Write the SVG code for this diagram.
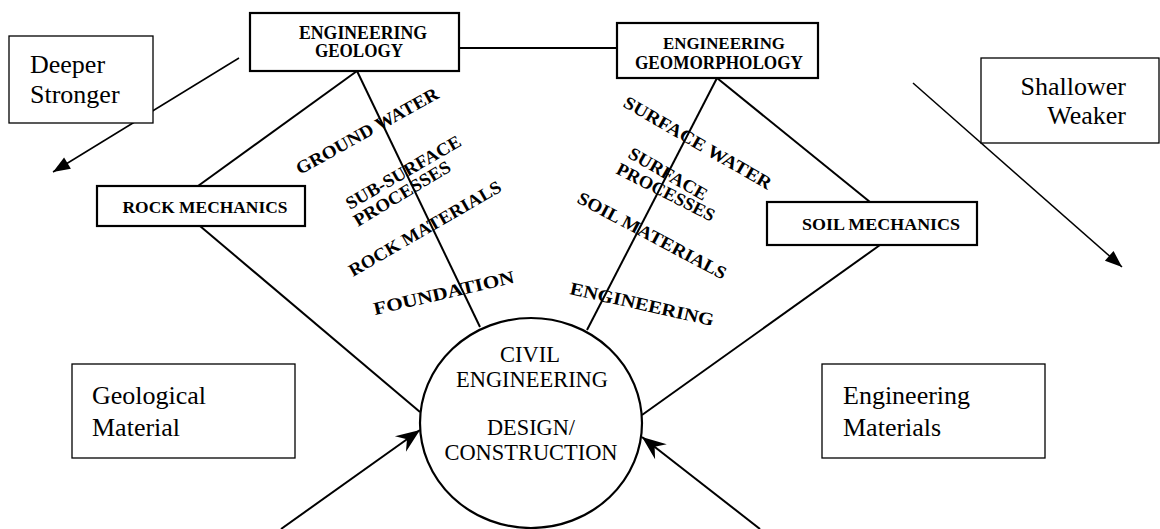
<svg xmlns="http://www.w3.org/2000/svg" width="1160" height="529" viewBox="0 0 1160 529">
  <defs>
    <marker id="tri" markerUnits="userSpaceOnUse" markerWidth="20" markerHeight="16" viewBox="-18 -8 20 16" refX="0" refY="0" orient="auto">
      <path d="M0,0 L-17,-6.5 L-17,6.5 z" fill="#000"/>
    </marker>
    <marker id="barb" markerUnits="userSpaceOnUse" markerWidth="28" markerHeight="22" viewBox="-26 -11 28 22" refX="0" refY="0" orient="auto">
      <path d="M0,0 L-24,-9.5 L-16,0 L-24,9.5 z" fill="#000"/>
    </marker>
    <style>
      .scan { fill: #fff; stroke: #000; stroke-width: 2.2; }
      .plain { fill: #fff; stroke: #000; stroke-width: 1.3; }
      .edge { fill: none; stroke: #000; stroke-width: 2; }
      .arr { fill: none; stroke: #000; stroke-width: 1.5; }
      .lbl { font-family: "Liberation Serif", "DejaVu Serif", serif; font-weight: bold; fill: #000; }
      .rot { font-family: "Liberation Serif", "DejaVu Serif", serif; font-weight: bold; font-size: 18px; fill: #000; }
      .core { font-family: "Liberation Serif", "DejaVu Serif", serif; font-size: 23px; fill: #000; text-anchor: middle; }
      .tnr { font-family: "Liberation Serif", "Times New Roman", serif; font-size: 26px; fill: #000; }
    </style>
  </defs>

  <!-- connectors -->
  <g id="connectors">
    <line class="edge" x1="459" y1="48" x2="617" y2="48"/>
    <line class="edge" x1="357" y1="71" x2="198" y2="186"/>
    <line class="edge" x1="357" y1="71" x2="480" y2="327"/>
    <line class="edge" x1="717" y1="78" x2="587" y2="330"/>
    <line class="edge" x1="717" y1="78" x2="870" y2="202"/>
    <line class="edge" x1="200" y1="226" x2="420" y2="412"/>
    <line class="edge" x1="880" y1="245" x2="642" y2="415"/>
    <!-- trend arrows -->
    <line class="arr" x1="239" y1="58" x2="53" y2="172" marker-end="url(#tri)"/>
    <line class="arr" x1="913" y1="83" x2="1122" y2="267" marker-end="url(#tri)"/>
    <!-- inputs into the design core -->
    <line class="edge" x1="281" y1="529" x2="420" y2="430" marker-end="url(#barb)"/>
    <line class="edge" x1="760" y1="529" x2="642" y2="437" marker-end="url(#barb)"/>
  </g>

  <!-- discipline boxes -->
  <g id="eng-geology">
    <rect class="scan" x="250" y="13" width="209" height="58"/>
    <text class="lbl" x="363" y="39" font-size="18" text-anchor="middle" textLength="128" lengthAdjust="spacingAndGlyphs">ENGINEERING</text>
    <text class="lbl" x="359" y="57" font-size="18" text-anchor="middle" textLength="88" lengthAdjust="spacingAndGlyphs">GEOLOGY</text>
  </g>

  <g id="eng-geomorphology">
    <rect class="scan" x="617" y="23" width="201" height="55"/>
    <text class="lbl" x="724" y="49" font-size="17" text-anchor="middle" textLength="122" lengthAdjust="spacingAndGlyphs">ENGINEERING</text>
    <text class="lbl" x="719" y="69" font-size="18" text-anchor="middle" textLength="168" lengthAdjust="spacingAndGlyphs">GEOMORPHOLOGY</text>
  </g>

  <g id="rock-mechanics">
    <rect class="scan" x="97" y="186" width="208" height="40"/>
    <text class="lbl" x="205" y="213" font-size="17" text-anchor="middle" textLength="165" lengthAdjust="spacingAndGlyphs">ROCK MECHANICS</text>
  </g>

  <g id="soil-mechanics">
    <rect class="scan" x="767" y="202" width="210" height="43"/>
    <text class="lbl" x="881" y="230" font-size="17" text-anchor="middle" textLength="158" lengthAdjust="spacingAndGlyphs">SOIL MECHANICS</text>
  </g>

  <!-- central design node -->
  <g id="civil-engineering">
    <ellipse cx="531" cy="423" rx="111" ry="105" fill="#fff" stroke="#000" stroke-width="2.2"/>
    <text class="core" x="530" y="362" textLength="60" lengthAdjust="spacingAndGlyphs">CIVIL</text>
    <text class="core" x="532" y="387" textLength="152" lengthAdjust="spacingAndGlyphs">ENGINEERING</text>
    <text class="core" x="531" y="435" textLength="88" lengthAdjust="spacingAndGlyphs">DESIGN/</text>
    <text class="core" x="531" y="460" textLength="173" lengthAdjust="spacingAndGlyphs">CONSTRUCTION</text>
  </g>

  <!-- processes along the geology branch -->
  <g id="geology-topics">
    <text class="rot" transform="translate(300,175) rotate(-29)" textLength="160" lengthAdjust="spacingAndGlyphs">GROUND WATER</text>
    <text class="rot" transform="translate(350,210) rotate(-30)" textLength="130" lengthAdjust="spacingAndGlyphs">SUB-SURFACE</text>
    <text class="rot" transform="translate(358,227) rotate(-31)" textLength="110" lengthAdjust="spacingAndGlyphs">PROCESSES</text>
    <text class="rot" transform="translate(353,277) rotate(-30)" textLength="173" lengthAdjust="spacingAndGlyphs">ROCK MATERIALS</text>
    <text class="rot" transform="translate(375,315) rotate(-13)" textLength="144" lengthAdjust="spacingAndGlyphs">FOUNDATION</text>
  </g>

  <!-- processes along the geomorphology branch -->
  <g id="geomorphology-topics">
    <text class="rot" transform="translate(622,106) rotate(30)" textLength="168" lengthAdjust="spacingAndGlyphs">SURFACE WATER</text>
    <text class="rot" transform="translate(627,157) rotate(30)" textLength="88" lengthAdjust="spacingAndGlyphs">SURFACE</text>
    <text class="rot" transform="translate(615,173) rotate(27)" textLength="108" lengthAdjust="spacingAndGlyphs">PROCESSES</text>
    <text class="rot" transform="translate(576,202) rotate(28)" textLength="166" lengthAdjust="spacingAndGlyphs">SOIL MATERIALS</text>
    <text class="rot" transform="translate(569,294) rotate(12.6)" textLength="147" lengthAdjust="spacingAndGlyphs">ENGINEERING</text>
  </g>

  <!-- annotation boxes -->
  <g id="deeper-stronger">
    <rect class="plain" x="9" y="36" width="144" height="87"/>
    <text class="tnr" x="30" y="73">Deeper</text>
    <text class="tnr" x="30" y="103">Stronger</text>
  </g>

  <g id="shallower-weaker">
    <rect class="plain" x="981" y="58" width="178" height="85"/>
    <text class="tnr" x="1126" y="95" text-anchor="end">Shallower</text>
    <text class="tnr" x="1126" y="124" text-anchor="end">Weaker</text>
  </g>

  <g id="geological-material">
    <rect class="plain" x="72" y="364" width="223" height="94"/>
    <text class="tnr" x="92" y="404">Geological</text>
    <text class="tnr" x="92" y="436">Material</text>
  </g>

  <g id="engineering-materials">
    <rect class="plain" x="822" y="364" width="223" height="94"/>
    <text class="tnr" x="843" y="404">Engineering</text>
    <text class="tnr" x="843" y="436">Materials</text>
  </g>
</svg>
